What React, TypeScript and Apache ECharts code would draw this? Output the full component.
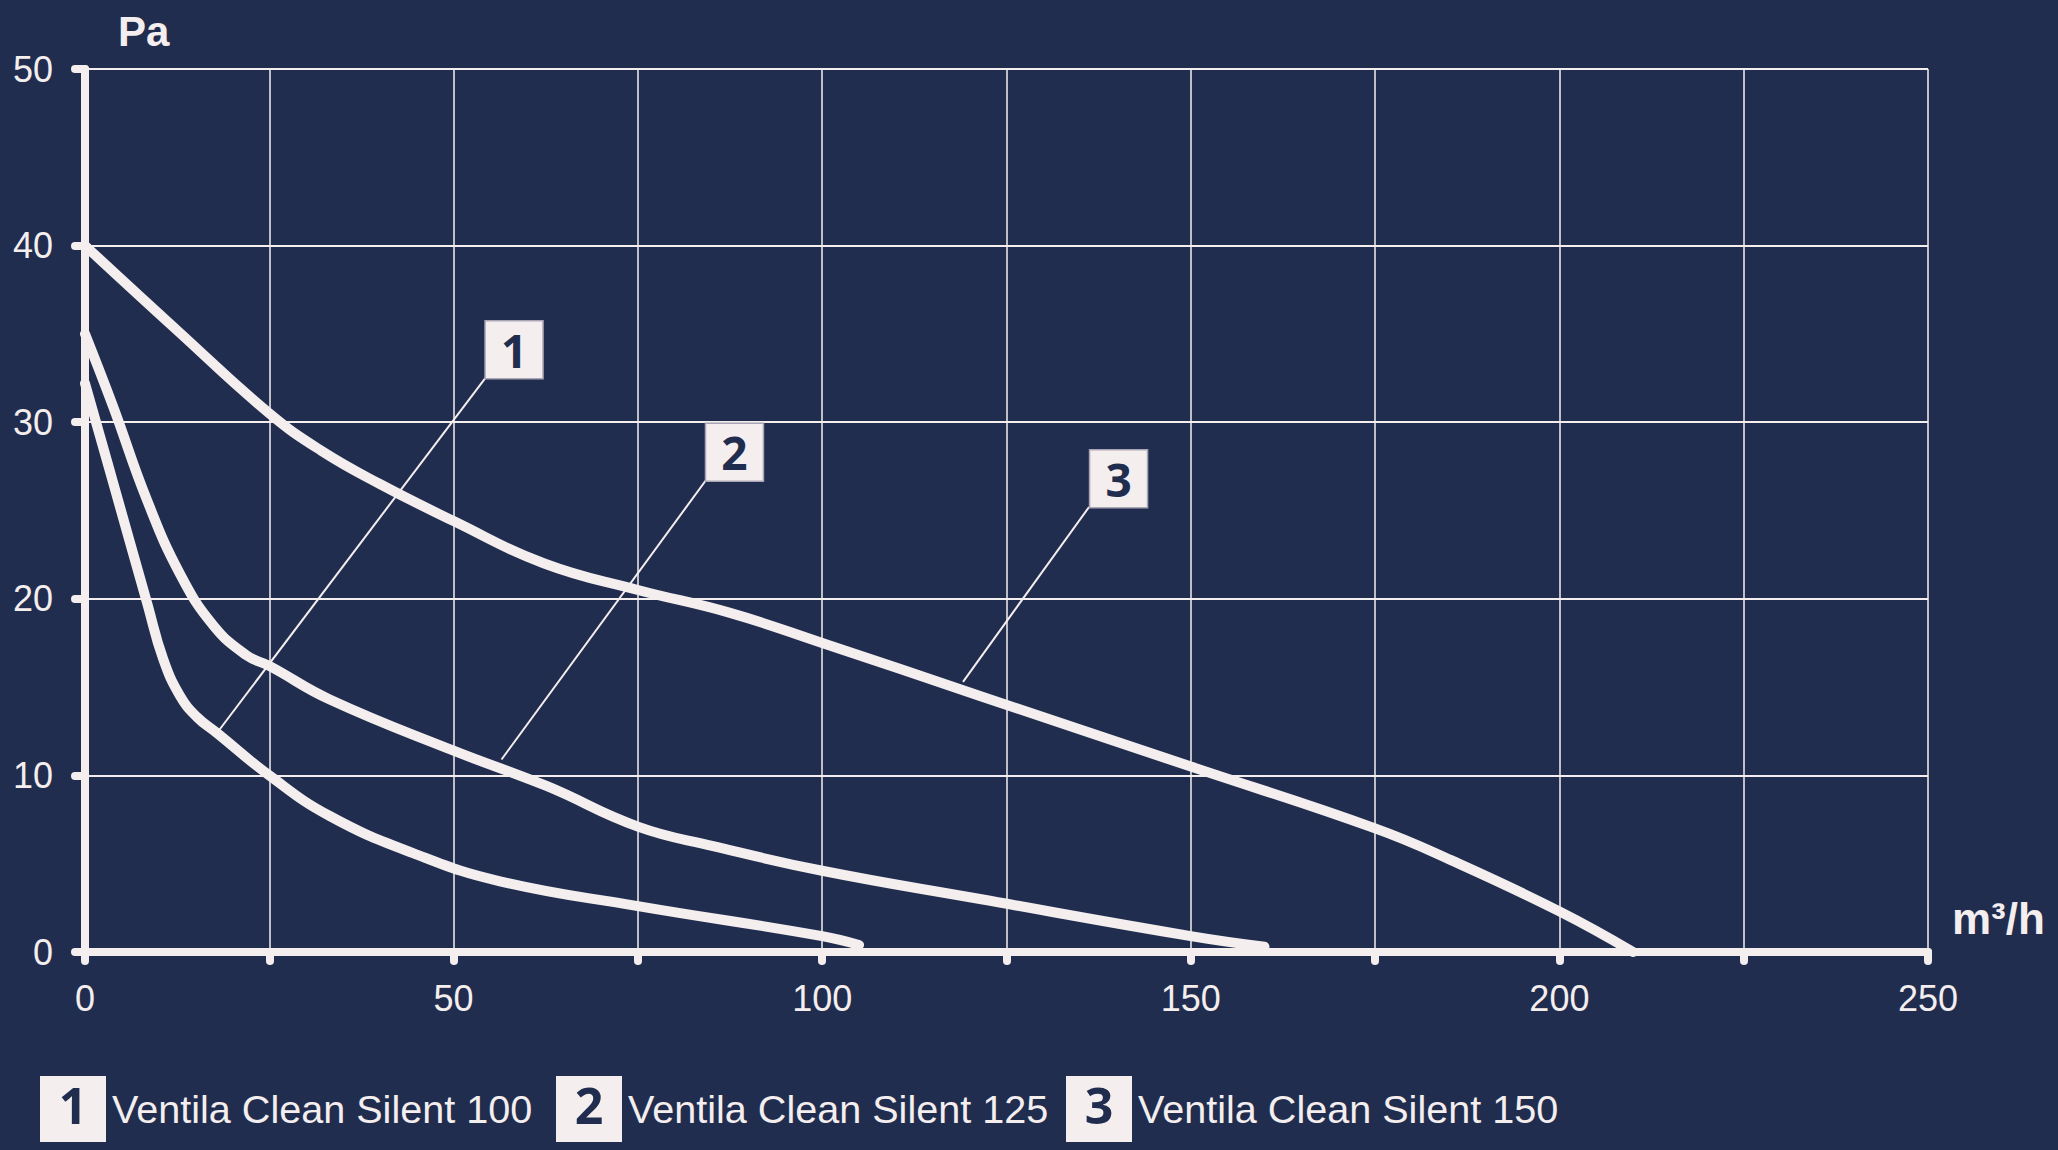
import React, { useEffect, useRef } from "react";
import * as echarts from "echarts";

const BG = "#212d4e";
const FG = "#f4eeee";

// Series names and their number badges
const seriesNames = ["Ventila Clean Silent 100", "Ventila Clean Silent 125", "Ventila Clean Silent 150"];
const seriesNumbers = ["1", "2", "3"];

// Ventila Clean Silent 100 (m³/h, Pa)
const flow100 = [0, 3.8, 8.4, 10.6, 12.9, 15.2, 17.9, 25, 33.2, 44.5, 56.3, 75, 100, 105];
const pressure100 = [32.2, 26.6, 19.8, 16.6, 14.5, 13.3, 12.4, 10.0, 7.7, 5.6, 4.0, 2.6, 0.9, 0.4];

// Ventila Clean Silent 125
const flow125 = [0, 3.8, 8.4, 12.9, 17.4, 21.9, 25, 33.2, 50, 62.6, 75, 85.2, 100, 121.4, 150, 160];
const pressure125 = [35, 30.9, 25.6, 21.4, 18.5, 16.8, 16.2, 14.3, 11.4, 9.4, 7.1, 6.0, 4.6, 3.0, 0.9, 0.3];

// Ventila Clean Silent 150
const flow150 = [0, 12.5, 25, 32, 40, 50, 62.3, 75, 87.5, 100, 121.4, 150, 175, 185.3, 200, 210];
const pressure150 = [40, 35.2, 30.5, 28.4, 26.5, 24.4, 22.0, 20.5, 19.2, 17.5, 14.5, 10.5, 7.0, 5.2, 2.3, 0];

// Annotation badges (data coords): badge centre, leader start (badge corner), leader end (on curve)
const badgeCentres = [[58.2, 34.1], [88.1, 28.3], [140.2, 26.8]];
const leaderStarts = [[54.3, 32.5], [84.2, 26.7], [136.2, 25.2]];
const leaderEnds = [[17.9, 12.4], [56.5, 10.9], [119.1, 15.3]];

// Axis settings
const xMin = 0, xMax = 250, xStep = 25, xLabelStep = 50;
const yMin = 0, yMax = 50, yStep = 10;
const xUnit = "m³/h";
const yUnit = "Pa";

const flows = [flow100, flow125, flow150];
const pressures = [pressure100, pressure125, pressure150];
const legendLefts = [35, 551, 1061];

export default function App() {
  const ref = useRef<HTMLDivElement>(null);

  useEffect(() => {
    if (!ref.current) return;
    const chart = echarts.init(ref.current, undefined, { renderer: "svg" });

    const series = seriesNames.map((name, i) => ({
      name,
      type: "line",
      data: flows[i].map((f, j) => [f, pressures[i][j]]),
      showSymbol: false,
      symbol: "none",
      smooth: 0.45,
      itemStyle: { color: FG },
      lineStyle: { color: FG, width: 10, cap: "round", join: "round" },
      z: 3,
      markLine: {
        silent: true,
        symbol: ["none", "none"],
        label: { show: false },
        lineStyle: { color: FG, width: 2, type: "solid" },
        data: [[{ coord: leaderStarts[i] }, { coord: leaderEnds[i] }]],
      },
      markPoint: {
        silent: true,
        symbol: "rect",
        symbolSize: 58,
        itemStyle: { color: FG, borderColor: "#a9a5b5", borderWidth: 1.5 },
        label: {
          show: true,
          formatter: () => seriesNumbers[i],
          color: BG,
          fontSize: 46,
          fontWeight: "bold",
          fontFamily: "Open Sans",
        },
        data: [{ coord: badgeCentres[i] }],
        z: 10,
      },
    }));

    const legends = seriesNames.map((name, i) => ({
      left: legendLefts[i],
      top: 1076,
      padding: 0,
      icon: "rect",
      itemWidth: 0,
      itemHeight: 0,
      itemStyle: { opacity: 0 },
      lineStyle: { opacity: 0 },
      selectedMode: false,
      data: [name],
      formatter: (n: string) => `{box|${seriesNumbers[seriesNames.indexOf(n)]}}{name|${n}}`,
      textStyle: {
        color: FG,
        rich: {
          box: {
            width: 66,
            height: 57,
            lineHeight: 57,
            padding: [0, 0, 9, 0],
            align: "center",
            verticalAlign: "middle",
            backgroundColor: FG,
            color: BG,
            fontSize: 50,
            fontWeight: "bold",
            fontFamily: "Open Sans",
          },
          name: {
            fontSize: 39.6,
            lineHeight: 66,
            height: 66,
            fontFamily: "Liberation Sans",
            color: FG,
            padding: [0, 0, 0, 6],
            verticalAlign: "middle",
          },
        },
      },
    }));

    chart.setOption({
      animation: false,
      backgroundColor: BG,
      grid: { left: 85, right: 130, top: 69, bottom: 198, containLabel: false },
      xAxis: {
        type: "value",
        min: xMin,
        max: xMax,
        interval: xStep,
        axisLine: { show: true, onZero: false, lineStyle: { color: FG, width: 8, cap: "round" } },
        axisTick: { show: true, length: 9, lineStyle: { color: FG, width: 8, cap: "round" } },
        axisLabel: {
          color: FG,
          fontSize: 36,
          fontFamily: "Liberation Sans",
          margin: 28,
          formatter: (v: number) => (v % xLabelStep === 0 ? String(v) : ""),
        },
        splitLine: { show: true, lineStyle: { color: FG, width: 1.5 } },
      },
      yAxis: {
        type: "value",
        min: yMin,
        max: yMax,
        interval: yStep,
        axisLine: { show: true, lineStyle: { color: FG, width: 8, cap: "round" } },
        axisTick: { show: true, length: 10, lineStyle: { color: FG, width: 8, cap: "round" } },
        axisLabel: { color: FG, fontSize: 36, fontFamily: "Liberation Sans", margin: 32 },
        splitLine: { show: true, lineStyle: { color: FG, width: 2 } },
      },
      legend: legends,
      graphic: [
        {
          type: "text",
          left: 118,
          top: 10,
          style: { text: yUnit, fill: FG, font: 'bold 42px "Liberation Sans"' },
        },
        {
          type: "text",
          left: 1952,
          top: 896,
          style: { text: xUnit, fill: FG, font: 'bold 44px "Liberation Sans"' },
        },
      ],
      series,
    });

    return () => chart.dispose();
  }, []);

  return (
    <div
      ref={ref}
      style={{ position: "absolute", left: 0, top: 0, width: 2058, height: 1150, background: BG }}
    />
  );
}
